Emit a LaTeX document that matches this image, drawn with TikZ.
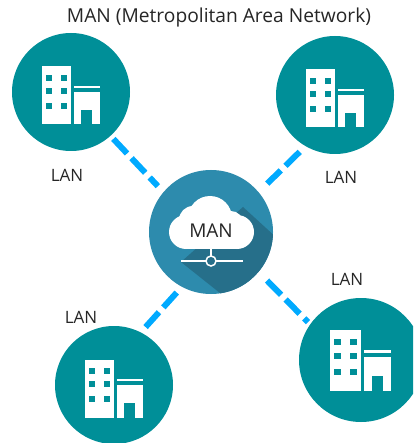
\documentclass[tikz,border=0pt]{standalone}
\usepackage{fontspec}
\setmainfont{Open Sans}
\definecolor{lanteal}{HTML}{008F98}
\definecolor{manblue}{HTML}{2D8BAD}
\definecolor{manshade}{HTML}{266F8A}
\definecolor{linkblue}{HTML}{00AAFF}
\tikzset{
  x=1pt,y=-1pt,
  lancircle/.style={circle,fill=lanteal,minimum size=118pt,inner sep=0pt},
  mancircle/.style={circle,fill=manblue,minimum size=124pt,inner sep=0pt},
  lbl/.style={font=\fontsize{17}{20}\selectfont,text=black!85,inner sep=0pt},
  link/.style={draw=linkblue,line width=6pt,dash pattern=on 20pt off 6.5pt},
  pics/building/.style={code={
    \fill[white] (-29.5,-25.5) rectangle (0,32.5);
    \fill[white] (3,-6.3) rectangle (29,-3.7);
    \fill[white] (3,-0.3) rectangle (29,32.5);
    \fill[lanteal] (10,18) rectangle (20.7,32.5);
    \foreach \wx in {-25.3,-10.3}{\foreach \wy in {-17,-3.7,11.3}{
      \fill[lanteal] (\wx,\wy) rectangle ++(6.6,6);}}
  }}
}
\begin{document}
\begin{tikzpicture}
\clip (0,0) rectangle (413,443);
\fill[white] (0,0) rectangle (413,443);
\node[lancircle] (lanA) at (71,92) {};
\node[lancircle] (lanB) at (335,95) {};
\node[lancircle] (lanC) at (114,385) {};
\node[lancircle,minimum size=124pt] (lanD) at (361,360) {};
\node[mancircle] (man) at (211,232) {};
\begin{scope}
  \clip (211,232) circle (62);
  \fill[manshade] (243,207) -- (290,250) -- (235,305) -- (181,262) -- cycle;
\end{scope}
% cloud
\foreach \cx/\cy/\cr in {186/232/17,237/232/17,210/218/22,193/220/14,231/223/12}{
  \fill[white] (\cx,\cy) circle (\cr);}
\fill[white] (186,225) rectangle (237,249);
\draw[white,line width=1.5pt] (211,249) -- (211,261) (181,261) -- (243,261);
\draw[white,line width=1.5pt,fill=manshade] (211,261) circle (5);
\node[lbl,font=\fontsize{19}{22}\selectfont] (manlabel) at (211,231) {MAN};
\pic at (71,92) {building};
\pic at (335,95) {building};
\pic at (114,385) {building};
\pic[scale=1.05] at (361,357) {building};
\draw[link,shorten <=4pt,shorten >=8pt] (lanA.-48) -- (man.140);
\draw[link,shorten <=8pt,shorten >=12pt] (lanB.-120) -- (man.40);
\draw[link,shorten <=7pt,shorten >=7pt] (lanC.63) -- (man.-118);
\draw[link,shorten <=12pt,shorten >=3pt] (man.-40) -- (lanD.145);
\node[lbl,font=\fontsize{19.2}{22}\selectfont] (title) at (219,18) {MAN (Metropolitan Area Network)};
\node[lbl] (tA) at (67,175) {LAN};
\node[lbl] (tB) at (341,177) {LAN};
\node[lbl] (tC) at (81,317) {LAN};
\node[lbl] (tD) at (347,279) {LAN};
\end{tikzpicture}
\end{document}
